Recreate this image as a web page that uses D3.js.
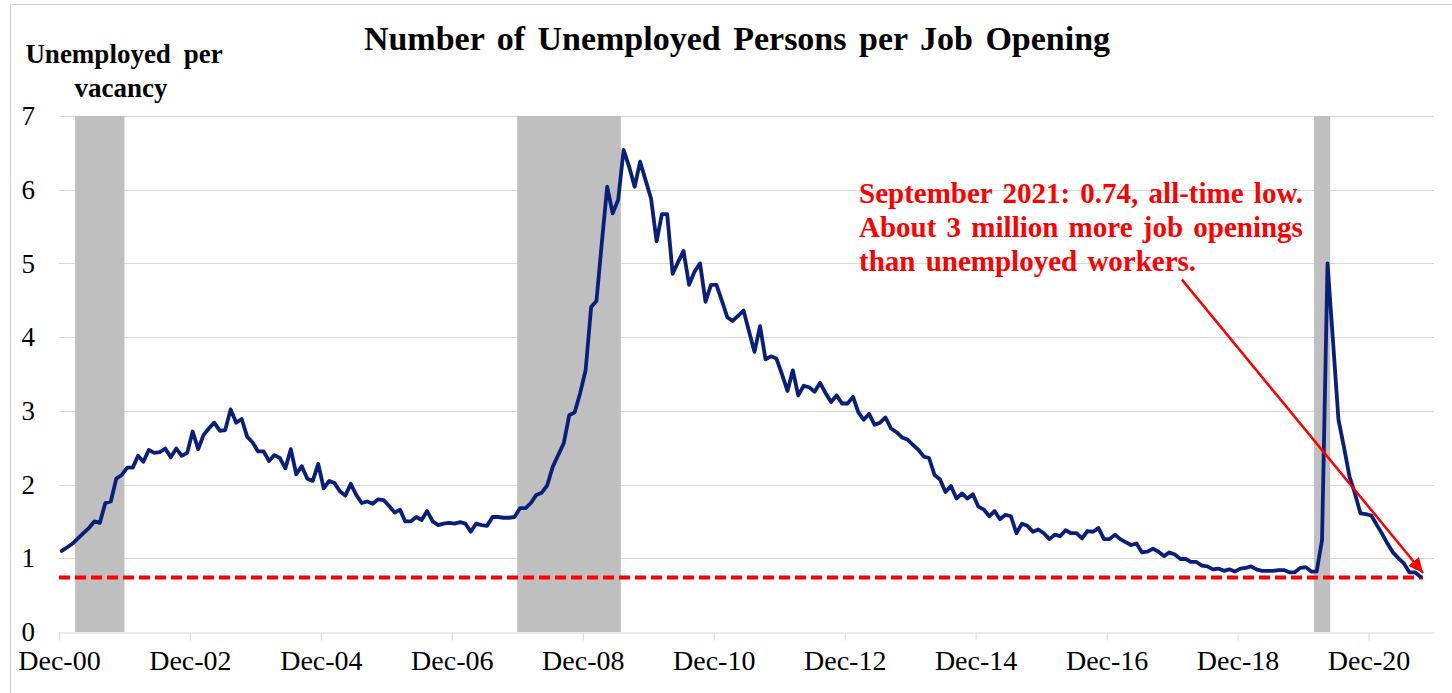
<!DOCTYPE html>
<html>
<head>
<meta charset="utf-8">
<script src="https://cdn.jsdelivr.net/npm/d3@7"></script>
<style>
html,body{margin:0;padding:0;background:#fff;}
svg{display:block;font-family:"Liberation Serif","Times New Roman",Times,serif;}
</style>
</head>
<body>
<svg id="chart" width="1452" height="693"></svg>
<script>
// ---------------- DATA ----------------
const firstMonth = [2000, 11]; // December 2000 (month index 0-based)
// Unemployed persons per job opening, monthly, Dec-2000 .. Dec-2009
const ratio2000s = [
  1.10,
  1.15,1.20,1.27,1.34,1.41,1.50,1.48,1.75,1.77,2.08,2.13,2.23,
  2.23,2.39,2.31,2.47,2.43,2.44,2.49,2.37,2.49,2.39,2.43,2.72,
  2.48,2.67,2.76,2.84,2.73,2.74,3.02,2.84,2.89,2.65,2.57,2.45,
  2.45,2.32,2.40,2.36,2.22,2.48,2.14,2.25,2.08,2.05,2.28,1.95,
  2.05,2.02,1.91,1.85,2.01,1.86,1.75,1.77,1.74,1.80,1.79,1.71,
  1.62,1.66,1.50,1.50,1.56,1.52,1.64,1.50,1.45,1.47,1.48,1.47,
  1.49,1.47,1.36,1.47,1.45,1.44,1.56,1.56,1.55,1.55,1.56,1.68,
  1.68,1.75,1.86,1.89,1.99,2.24,2.40,2.56,2.94,2.98,3.24,3.55,
  4.41,4.49,5.27,6.04,5.68,5.86,6.54,6.31,6.04,6.38,6.13,5.88
];
// Jan-2010 .. Dec-2019
const ratio2010s = [
  5.30,5.67,5.67,4.86,5.02,5.17,4.71,4.89,5.00,4.48,4.71,4.71,
  4.49,4.27,4.22,4.29,4.36,4.08,3.80,4.15,3.70,3.74,3.71,3.50,
  3.27,3.55,3.21,3.34,3.32,3.26,3.38,3.24,3.12,3.21,3.10,3.10,
  3.19,2.98,2.88,2.96,2.81,2.84,2.91,2.76,2.71,2.64,2.61,2.54,
  2.47,2.38,2.36,2.13,2.07,1.90,1.98,1.81,1.88,1.81,1.87,1.70,
  1.66,1.57,1.64,1.53,1.59,1.57,1.34,1.47,1.44,1.36,1.39,1.34,
  1.26,1.32,1.30,1.38,1.34,1.34,1.27,1.37,1.36,1.41,1.26,1.26,
  1.32,1.26,1.22,1.18,1.20,1.08,1.09,1.13,1.09,1.03,1.08,1.05,
  0.99,0.99,0.95,0.95,0.90,0.89,0.85,0.86,0.83,0.85,0.82,0.86,
  0.87,0.89,0.85,0.83,0.83,0.83,0.84,0.84,0.81,0.81,0.87,0.88
];
// Jan-2020 .. Sep-2021
const ratio2020s = [
  0.82,0.82,1.25,5.00,3.95,2.88,2.51,2.11,1.88,1.61,1.60,1.58,
  1.45,1.33,1.20,1.08,1.00,0.93,0.81,0.81,0.75
];
// NBER recessions [first month, last month]
const recessions = [["2001-03","2001-11"],["2007-12","2009-06"],["2020-02","2020-04"]];
const xTickDates  = ["2000-12","2002-12","2004-12","2006-12","2008-12","2010-12","2012-12","2014-12","2016-12","2018-12","2020-12"];
const xTickLabels = ["Dec-00","Dec-02","Dec-04","Dec-06","Dec-08","Dec-10","Dec-12","Dec-14","Dec-16","Dec-18","Dec-20"];
const yTicks = [0,1,2,3,4,5,6,7];
const lowValue = 0.74;
const titleText = "Number of Unemployed Persons per Job Opening";
const yTitleLines = ["Unemployed per","vacancy"];
const noteLines = ["September 2021: 0.74, all-time low.","About 3 million more job openings","than unemployed workers."];
const arrowFrom = {date:"2018-01-25", value:4.78};
const arrowTo   = {date:"2021-10-01", value:0.80};

// ---------------- CHART ----------------
(function(){
const svg = d3.select("#chart");
const pL = 59, pR = 1434, pT = 116, pB = 632;
const parseM = d3.timeParse("%Y-%m");
const parseD = d3.timeParse("%Y-%m-%d");

const values = ratio2000s.concat(ratio2010s, ratio2020s);
const series = values.map((v,i) => {
  const a = new Date(firstMonth[0], firstMonth[1] + i, 1);
  const b = new Date(firstMonth[0], firstMonth[1] + i + 1, 1);
  return {date: new Date((+a + +b)/2), value: v};
});

const x = d3.scaleTime().domain([new Date(2000,11,1), new Date(2021,11,1)]).range([pL, pR]);
const y = d3.scaleLinear().domain([0,7]).range([pB, pT]);

// outer frame
svg.append("rect").attr("x",10.5).attr("y",4.5).attr("width",1460).attr("height",720)
  .attr("fill","none").attr("stroke","#d4d4d4").attr("stroke-width",1);

// gridlines
svg.append("g").selectAll("line").data(yTicks.filter(d=>d>0)).join("line")
  .attr("x1",pL).attr("x2",pR)
  .attr("y1",d=>Math.round(y(d))+0.5).attr("y2",d=>Math.round(y(d))+0.5)
  .attr("stroke","#d9d9d9").attr("stroke-width",1);

// recession bands
svg.append("g").selectAll("rect").data(recessions).join("rect")
  .attr("x",d=>x(parseM(d[0])))
  .attr("width",d=>{const e=parseM(d[1]); const n=new Date(e.getFullYear(), e.getMonth()+1, 1); return x(n)-x(parseM(d[0]));})
  .attr("y",y(7)).attr("height",y(0)-y(7))
  .attr("fill","#bfbfbf");

// x axis
const xAxis = d3.axisBottom(x)
  .tickValues(xTickDates.map(parseM))
  .tickFormat((d,i)=>xTickLabels[i])
  .tickSizeInner(8).tickSizeOuter(0).tickPadding(10);
const gx = svg.append("g").attr("transform",`translate(0,${Math.round(y(0))+0.5})`).call(xAxis);
gx.select(".domain").attr("stroke","#d9d9d9");
gx.selectAll(".tick line").attr("stroke","#d9d9d9");
gx.selectAll(".tick text").attr("font-size",28).attr("fill","#000")
  .attr("font-family",'"Liberation Serif","Times New Roman",serif');

// y axis labels
const yAxis = d3.axisLeft(y).tickValues(yTicks).tickFormat(d3.format("d")).tickSize(0).tickPadding(24);
const gy = svg.append("g").attr("transform",`translate(${pL},0)`).call(yAxis);
gy.select(".domain").remove();
gy.selectAll(".tick text").attr("font-size",27).attr("fill","#000")
  .attr("font-family",'"Liberation Serif","Times New Roman",serif');

// dashed all-time-low line
svg.append("line")
  .attr("x1",x(new Date(2000,11,1))).attr("x2",x(new Date(2021,9,1)))
  .attr("y1",y(lowValue)).attr("y2",y(lowValue))
  .attr("stroke","#ff0000").attr("stroke-width",4).attr("stroke-dasharray","11,5");

// series line
const line = d3.line().x(d=>x(d.date)).y(d=>y(d.value));
svg.append("path").datum(series).attr("d",line)
  .attr("fill","none").attr("stroke","#0a1f7c").attr("stroke-width",3.8)
  .attr("stroke-linejoin","round").attr("stroke-linecap","round");

// arrow
const defs = svg.append("defs");
defs.append("marker").attr("id","arrowhead").attr("markerUnits","userSpaceOnUse")
  .attr("markerWidth",16).attr("markerHeight",14).attr("refX",15).attr("refY",7).attr("orient","auto")
  .append("path").attr("d","M0,0 L15,7 L0,14 Z").attr("fill","#ff0000");
svg.append("line")
  .attr("x1",x(parseD(arrowFrom.date))).attr("y1",y(arrowFrom.value))
  .attr("x2",x(parseD(arrowTo.date))).attr("y2",y(arrowTo.value))
  .attr("stroke","#ff0000").attr("stroke-width",2.5).attr("marker-end","url(#arrowhead)");

// title
svg.append("text").attr("x",737).attr("y",50).attr("text-anchor","middle")
  .attr("font-size",34).attr("font-weight","bold").attr("fill","#000").attr("word-spacing",4)
  .text(titleText);

// y title
svg.append("text").attr("x",124).attr("y",63).attr("text-anchor","middle")
  .attr("font-size",27).attr("font-weight","bold").attr("word-spacing",6).text(yTitleLines[0]);
svg.append("text").attr("x",121).attr("y",97).attr("text-anchor","middle")
  .attr("font-size",27).attr("font-weight","bold").text(yTitleLines[1]);

// annotation
svg.append("g").selectAll("text").data(noteLines).join("text")
  .attr("x",859).attr("y",(d,i)=>203+i*34)
  .attr("font-size",29).attr("font-weight","bold").attr("fill","#ff0000").attr("word-spacing",3)
  .text(d=>d);
})();
</script>
</body>
</html>
